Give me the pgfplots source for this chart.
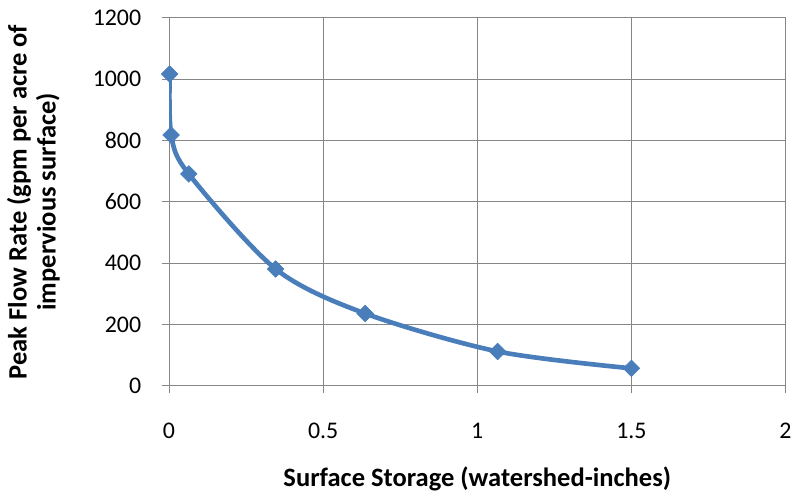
\documentclass[border=0pt]{standalone}
\usepackage{pgfplots}
\pgfplotsset{compat=1.18}
\usepackage{fontspec}
\setmainfont{Carlito}
\definecolor{serblue}{HTML}{4A7EBB}
\definecolor{gridgray}{HTML}{868686}
\begin{document}
\begin{tikzpicture}
\begin{axis}[
  at={(0,0)}, anchor=south west,
  scale only axis,
  width=465pt, height=277.5pt,
  xmin=0, xmax=2, ymin=0, ymax=1200,
  xtick={0,0.5,1,1.5,2},
  ytick={0,200,400,600,800,1000,1200},
  xticklabels={0,0.5,1,1.5,2},
  /pgf/number format/1000 sep={},
  axis lines*=left,
  axis line style={gridgray, line width=0.8pt},
  grid=major,
  major grid style={gridgray, line width=0.8pt},
  tick style={gridgray, line width=0.8pt},
  tick align=outside,
  major tick length=5.5pt,
  /pgf/number format/assume math mode=true,
  ticklabel style={font=\fontsize{18}{21}\selectfont, text=black},
  xticklabel style={yshift=-19pt},
  yticklabel style={xshift=-12pt},
  xlabel={Surface Storage (watershed-inches)},
  ylabel={Peak Flow Rate (gpm per acre of\\impervious surface)},
  label style={font=\bfseries\fontsize{20}{22}\selectfont},
  xlabel style={at={(axis description cs:0.5,-0.254)}, anchor=center},
  ylabel style={at={(axis description cs:-0.22,0.5)}, anchor=center, align=center, rotate=0},
]
\addplot[serblue, line width=3.5pt, smooth, tension=0.5,
  mark=square*, mark size=4.4pt,
  mark options={rotate=45, fill=serblue, draw=serblue, line width=0.5pt}]
  coordinates {
  (0.002,1017)
  (0.007,818)
  (0.064,691)
  (0.346,381)
  (0.636,236)
  (1.066,112)
  (1.5,57)
};
\end{axis}
\path[use as bounding box] (-127.5pt,-81.75pt) rectangle (469.5pt,291pt);
\end{tikzpicture}
\end{document}
